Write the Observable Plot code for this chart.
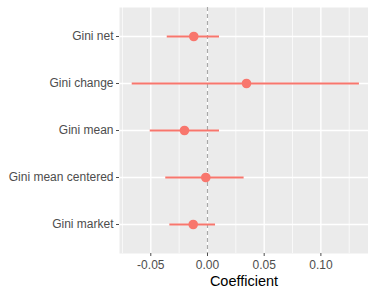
<!DOCTYPE html>
<html>
<head>
<meta charset="utf-8">
<script src="https://cdn.jsdelivr.net/npm/d3@7"></script>
<script src="https://cdn.jsdelivr.net/npm/@observablehq/plot@0.6"></script>
<style>
  html, body { margin: 0; padding: 0; background: #fff; }
  #chart svg { display: block; }
</style>
</head>
<body>
<div id="chart"></div>
<script>
const terms = ["Gini net", "Gini change", "Gini mean", "Gini mean centered", "Gini market"];
const estimates = [-0.0121, 0.0344, -0.0203, -0.0015, -0.0126];
const lows = [-0.0355, -0.0664, -0.0505, -0.0368, -0.0332];
const highs = [0.0106, 0.1340, 0.0106, 0.0323, 0.0071];
const majorTicks = [-0.05, 0, 0.05, 0.10];
const minorTicks = [-0.075, -0.025, 0.025, 0.075, 0.125];
const xTitle = "Coefficient";

const data = terms.map((t, i) => ({term: t, est: estimates[i], lo: lows[i], hi: highs[i]}));
const col = "#F8766D";

const chart = Plot.plot({
  width: 368,
  height: 292,
  marginLeft: 119,
  marginRight: 0,
  marginTop: 7,
  marginBottom: 39,
  style: {fontFamily: "'Liberation Sans', Arial, sans-serif", fontSize: "12px", background: "#fff"},
  x: {domain: [-0.0776, 0.142], label: null},
  y: {type: "point", domain: terms, padding: 0.6, label: null},
  marks: [
    Plot.frame({fill: "#EBEBEB", stroke: null}),
    Plot.ruleX(minorTicks, {x: d => d, stroke: "white", strokeWidth: 0.7}),
    Plot.ruleX(majorTicks, {x: d => d, stroke: "white", strokeWidth: 1.4}),
    Plot.ruleY(terms, {y: d => d, stroke: "white", strokeWidth: 1.4}),
    Plot.ruleX([0], {x: d => d, stroke: "#a8a8a8", strokeWidth: 1.2, strokeDasharray: "4,3"}),
    Plot.ruleY(data, {y: "term", x1: "lo", x2: "hi", stroke: col, strokeWidth: 1.8}),
    Plot.dot(data, {x: "est", y: "term", r: 4.8, fill: col, stroke: null}),
    Plot.axisX(majorTicks, {tickSize: 3, tickPadding: 4, color: "#4D4D4D", tickFormat: d => d.toFixed(2), label: null}),
    Plot.axisY(terms, {tickSize: 3, tickPadding: 3, color: "#4D4D4D", label: null}),
    Plot.text([xTitle], {frameAnchor: "bottom", dy: 32, fontSize: 14.5, fill: "#000"})
  ]
});
document.getElementById("chart").appendChild(chart);
</script>
</body>
</html>
